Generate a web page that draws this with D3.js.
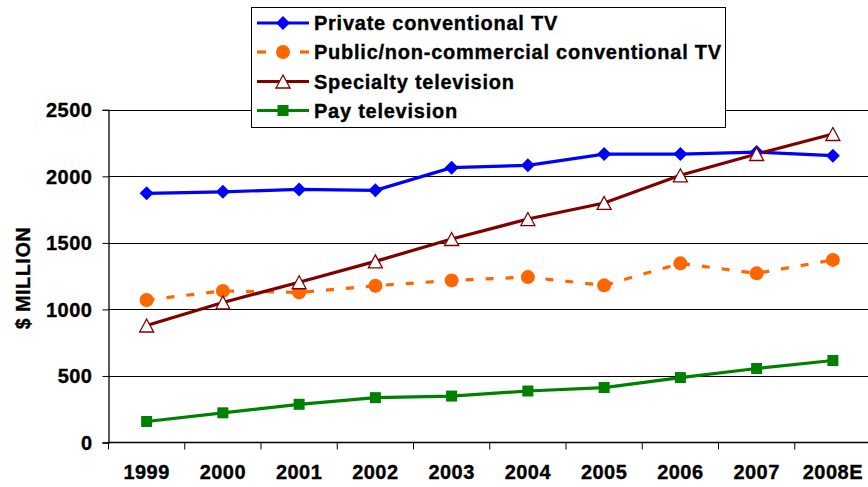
<!DOCTYPE html>
<html><head><meta charset="utf-8">
<script src="https://cdn.jsdelivr.net/npm/d3@7"></script>
<style>
html,body{margin:0;padding:0;background:#fff;}
svg{display:block;}
text{font-family:"Liberation Sans",Arial,sans-serif;font-weight:bold;fill:#000;stroke:#000;stroke-width:0.35px;}
</style></head>
<body><svg id="c" width="868" height="487"></svg>
<script>
const categories = ["1999","2000","2001","2002","2003","2004","2005","2006","2007","2008E"];
const privateTV = [1872, 1884, 1902, 1895, 2065, 2083, 2167, 2167, 2182, 2155];
const publicTV = [1071, 1139, 1128, 1178, 1218, 1243, 1181, 1346, 1271, 1372];
const specialtyTV = [879, 1052, 1204, 1361, 1529, 1679, 1800, 2008, 2168, 2318];
const payTV = [158, 223, 287, 337, 349, 387, 413, 488, 556, 616];
const yTicks = [0, 500, 1000, 1500, 2000, 2500];
const seriesNames = ["Private conventional TV","Public/non-commercial conventional TV","Specialty television","Pay television"];

(function(){
const svg = d3.select("#c");
const pLeft = 108.5, pRight = 871, pTop = 109.8, pBottom = 442.5;
const x = d3.scaleBand().domain(categories).range([pLeft, pRight]);
const y = d3.scaleLinear().domain([0, 2500]).range([pBottom, pTop]);

// gridlines
svg.append("g").selectAll("line").data(yTicks.filter(d => d > 0)).join("line")
  .attr("x1", pLeft).attr("x2", 868)
  .attr("y1", d => Math.round(y(d)) + 0.5).attr("y2", d => Math.round(y(d)) + 0.5)
  .attr("stroke", "#000").attr("stroke-width", 1);

// y axis
const yAxis = svg.append("g").attr("transform", `translate(${pLeft},0)`)
  .call(d3.axisLeft(y).tickValues(yTicks).tickSize(6).tickPadding(10).tickFormat(d3.format("d")));
yAxis.select(".domain").attr("stroke", "#000").attr("stroke-width", 1.3);
yAxis.selectAll("text").style("font-size", "20px").style("letter-spacing", "0.5px").attr("dy", "0.35em");

// x axis
const xAxis = svg.append("g").attr("transform", `translate(0,${pBottom})`)
  .call(d3.axisBottom(x).tickSize(0).tickPadding(22));
xAxis.select(".domain").remove();
xAxis.selectAll("text").style("font-size", "20px").style("letter-spacing", "0.5px");
svg.append("line").attr("x1", pLeft).attr("x2", 868).attr("y1", pBottom).attr("y2", pBottom)
  .attr("stroke", "#000").attr("stroke-width", 1.3);
svg.append("g").selectAll("line").data(categories).join("line")
  .attr("x1", d => x(d)).attr("x2", d => x(d))
  .attr("y1", pBottom).attr("y2", pBottom + 7)
  .attr("stroke", "#000").attr("stroke-width", 1);

// y axis title
svg.append("text").attr("transform", "translate(30,278) rotate(-90)")
  .attr("text-anchor", "middle").style("font-size", "19.5px").style("letter-spacing", "0.7px")
  .text("$ MILLION");

const cx = d => x(d) + x.bandwidth() / 2;
const styles = [
  {data: privateTV, color: "#0000FF", dash: null, marker: "diamond"},
  {data: publicTV, color: "#FF6600", dash: "8,12", marker: "circle"},
  {data: specialtyTV, color: "#800000", dash: null, marker: "triangle"},
  {data: payTV, color: "#008000", dash: null, marker: "square"}
];
const line = d3.line().x((d, i) => cx(categories[i])).y(d => y(d));

function drawMarker(g, type, color) {
  if (type === "diamond") {
    g.append("path").attr("d", "M0,-7L7,0L0,7L-7,0Z").attr("fill", color);
  } else if (type === "circle") {
    g.append("circle").attr("r", 7).attr("fill", color);
  } else if (type === "triangle") {
    g.append("path").attr("d", "M0,-6.5L7,6.5L-7,6.5Z").attr("fill", "#fff").attr("stroke", color).attr("stroke-width", 1.3);
  } else if (type === "square") {
    g.append("rect").attr("x", -5.5).attr("y", -5.5).attr("width", 11).attr("height", 11).attr("fill", color);
  }
}

styles.forEach(s => {
  svg.append("path").datum(s.data).attr("d", line)
    .attr("fill", "none").attr("stroke", s.color).attr("stroke-width", 3.2)
    .attr("stroke-dasharray", s.dash);
});
styles.forEach(s => {
  s.data.forEach((v, i) => {
    const g = svg.append("g").attr("transform", `translate(${cx(categories[i])},${y(v)})`);
    drawMarker(g, s.marker, s.color);
  });
});

// legend
const lg = svg.append("g");
lg.append("rect").attr("x", 251.5).attr("y", 7.5).attr("width", 474).attr("height", 120)
  .attr("fill", "#fff").attr("stroke", "#000").attr("stroke-width", 1);
const rowY = [23, 52, 81.5, 110.5];
styles.forEach((s, i) => {
  const g = lg.append("g").attr("transform", `translate(0,${rowY[i]})`);
  if (s.dash) {
    g.append("line").attr("x1", 257).attr("x2", 266).attr("y1", 0).attr("y2", 0).attr("stroke", s.color).attr("stroke-width", 3.2);
    g.append("line").attr("x1", 300).attr("x2", 309).attr("y1", 0).attr("y2", 0).attr("stroke", s.color).attr("stroke-width", 3.2);
  } else {
    g.append("line").attr("x1", 257).attr("x2", 309).attr("y1", 0).attr("y2", 0).attr("stroke", s.color).attr("stroke-width", 3.2);
  }
  const m = g.append("g").attr("transform", "translate(283,0)");
  drawMarker(m, s.marker, s.color);
  g.append("text").attr("x", 314).attr("y", 0).attr("dy", "0.36em")
    .style("font-size", "20px").style("letter-spacing", "0.75px").text(seriesNames[i]);
});
})();
</script></body></html>
